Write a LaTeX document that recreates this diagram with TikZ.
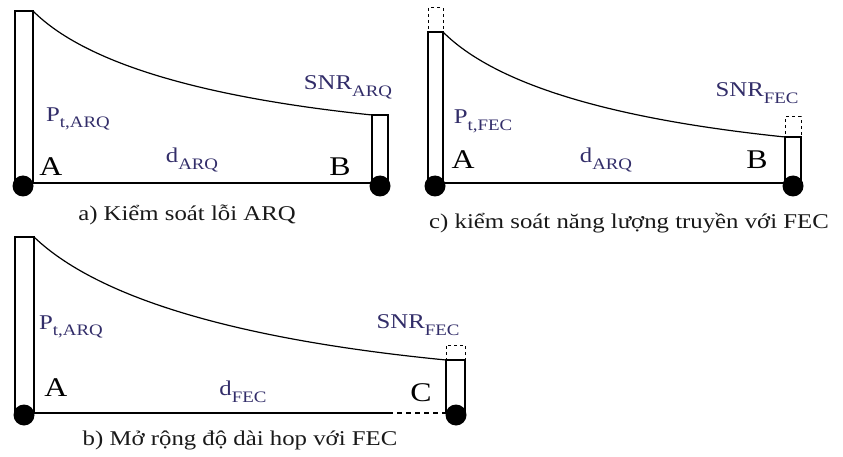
\documentclass[tikz,border=0pt]{standalone}
\usepackage{fontspec}
\setmainfont{Liberation Serif}
\definecolor{labc}{RGB}{50,45,105}
\definecolor{capc}{RGB}{25,25,25}
\newcommand\sx[1]{\scalebox{1.18}[1]{#1}}
\newcommand\subs[1]{\raisebox{-0.32em}{\fontsize{16}{16}\selectfont #1}}
\begin{document}
\begin{tikzpicture}[x=1pt,y=-1pt,
  bar/.style={draw, line width=1.4pt, inner sep=0pt, outer sep=0pt, anchor=south west},
  dbox/.style={draw, line width=1pt, dash pattern=on 3pt off 3pt, inner sep=0pt, outer sep=0pt, anchor=south west},
  dot/.style={circle, fill=black, minimum size=21pt, inner sep=0pt},
  baseln/.style={line width=1.4pt},
  curve/.style={line width=1.2pt},
  lab/.style={text=labc, inner sep=0pt, font=\fontsize{21}{21}\selectfont},
  big/.style={text=black, inner sep=0pt, font=\fontsize{27}{27}\selectfont},
  captxt/.style={text=capc, inner sep=0pt, font=\fontsize{21}{21}\selectfont}]
\fill[white] (0,0) rectangle (843,457);
\useasboundingbox (0,0) rectangle (843,457);

% ---------- panel a ----------
\node[bar, minimum width=18pt, minimum height=172pt] (aL) at (15,183) {};
\node[bar, minimum width=16pt, minimum height=68pt] (aR) at (372,183) {};
\draw[curve] (aL.north east) .. controls (90,68) and (219,99) .. (aR.north west);
\draw[baseln] (aL.south east) -- (aR.south west);
\node[dot] (aA) at (23,186) {};
\node[dot] (aB) at (380,186) {};
\node[lab] (aP) at (78,119) {\sx{P\subs{t,ARQ}}};
\node[big] (aAl) at (51,167) {\sx{A}};
\node[lab] (ad) at (192,160) {\sx{d\subs{ARQ}}};
\node[big] (aBl) at (340,167) {\sx{B}};
\node[lab] (aS) at (348,87) {\sx{SNR\subs{ARQ}}};
\node[captxt] (acap) at (187,215) {\sx{a) Kiểm soát lỗi ARQ}};

% ---------- panel c ----------
\node[bar, minimum width=15pt, minimum height=151pt] (cL) at (428,183) {};
\node[dbox, minimum width=15pt, minimum height=24pt] (cLd) at (cL.north west) {};
\node[bar, minimum width=16pt, minimum height=46pt] (cR) at (785,183) {};
\node[dbox, minimum width=16pt, minimum height=20pt] (cRd) at (cR.north west) {};
\draw[curve] (cL.north east) .. controls (501,90) and (631,121) .. (cR.north west);
\draw[baseln] (cL.south east) -- (cR.south west);
\node[dot] (cA) at (435,186) {};
\node[dot] (cB) at (793,186) {};
\node[lab] (cP) at (483,121) {\sx{P\subs{t,FEC}}};
\node[big] (cAl) at (463,160) {\sx{A}};
\node[lab] (cd) at (606,160) {\sx{d\subs{ARQ}}};
\node[big] (cBl) at (757,160) {\sx{B}};
\node[lab] (cS) at (757,93) {\sx{SNR\subs{FEC}}};
\node[captxt] (ccap) at (629,223) {\sx{c) kiểm soát năng lượng truyền với FEC}};

% ---------- panel b ----------
\node[bar, minimum width=19pt, minimum height=176pt] (bL) at (15,413) {};
\node[bar, minimum width=19pt, minimum height=53pt] (bR) at (446,413) {};
\node[dbox, minimum width=19pt, minimum height=15pt] (bRd) at (bR.north west) {};
\draw[curve] (bL.north east) .. controls (105,305) and (262,342) .. (bR.north west);
\coordinate (bmid) at (388,413);
\draw[baseln] (bL.south east) -- (bmid);
\draw[baseln, dash pattern=on 5pt off 4pt] (bmid) -- (bR.south west);
\node[dot] (bA) at (24,415) {};
\node[dot] (bC) at (456,415) {};
\node[lab] (bP) at (71,327) {\sx{P\subs{t,ARQ}}};
\node[big] (bAl) at (56,388) {\sx{A}};
\node[lab] (bd) at (243,392) {\sx{d\subs{FEC}}};
\node[big] (bCl) at (421,393) {\sx{C}};
\node[lab] (bS) at (418,325) {\sx{SNR\subs{FEC}}};
\node[captxt] (bcap) at (240,440) {\sx{b) Mở rộng độ dài hop với FEC}};
\end{tikzpicture}
\end{document}
